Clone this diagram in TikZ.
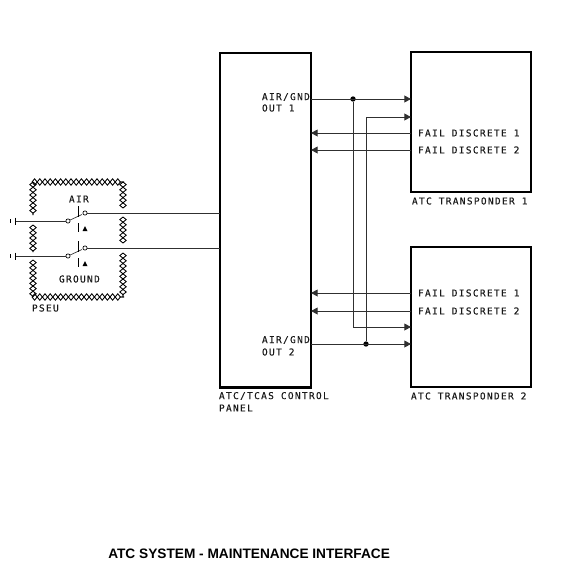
\documentclass[tikz,border=0pt]{standalone}
\usepackage{xcolor}
\usepackage{fontspec}
\usetikzlibrary{arrows.meta,positioning,decorations.pathmorphing}
\newfontfamily\stroke[LetterSpace=14,FakeBold=0.25]{DejaVu Sans Mono}
\setmainfont{Liberation Sans}
\definecolor{fio}{HTML}{303030}
\newcommand{\hatchrun}[2]{%
  \draw[hatch] (#1)--(#2);
  \draw[hatch,decoration={mirror}] (#1)--(#2);
}
\begin{document}
\begin{tikzpicture}[
  x=0.75pt,y=-0.75pt,
  unit/.style={draw=black,line width=2.1pt,outer sep=0pt,inner sep=0pt,anchor=north west},
  tag/.style={inner sep=0pt,outer sep=0pt,anchor=west,font=\stroke\fontsize{7.1pt}{8pt}\selectfont,text=black!90},
  wire/.style={draw=fio,line width=0.7pt},
  arrow/.style={wire,-{Triangle[length=5pt,width=5.2pt]}},
  junction/.style={circle,fill=black,inner sep=0pt,minimum size=4pt},
  contact/.style={circle,draw=black,fill=white,line width=0.5pt,inner sep=0pt,minimum size=3.2pt},
  hatch/.style={decorate,black,line width=0.65pt,decoration={zigzag,amplitude=2.4pt,segment length=7.8pt}}
]
  \useasboundingbox (0,0) rectangle (565,568);
  % boxes
  \node[unit,minimum width=68.25pt,minimum height=251pt] (panel) at (220,53) {};
  \node[unit,minimum width=90pt,minimum height=105pt] (tr1) at (411,52) {};
  \node[unit,minimum width=90pt,minimum height=105pt,below=41.25pt of tr1.south west,anchor=north west] (tr2) {};
  % labels
  \node[tag] (out1a) at (262,97) {AIR/GND};
  \node[tag] (out1b) at (262,108) {OUT 1};
  \node[tag] (out2a) at (262,340) {AIR/GND};
  \node[tag] (out2b) at (262,352) {OUT 2};
  \node[tag] (fail11) at (418,133) {FAIL DISCRETE 1};
  \node[tag] (fail12) at (418,150) {FAIL DISCRETE 2};
  \node[tag] (fail21) at (418,293) {FAIL DISCRETE 1};
  \node[tag] (fail22) at (418,311) {FAIL DISCRETE 2};
  \node[tag] (name1) at (412,201) {ATC TRANSPONDER 1};
  \node[tag] (name2) at (411,396) {ATC TRANSPONDER 2};
  \node[tag] (paneltxt) at (219,396) {ATC/TCAS CONTROL};
  \node[tag] (paneltxtb) at (219,408) {PANEL};
  \node[tag] (air) at (69,199) {AIR};
  \node[tag] (ground) at (59,279) {GROUND};
  \node[tag] (pseu) at (32,308) {PSEU};
  \node[anchor=west,inner sep=0pt,font=\bfseries\fontsize{10.26pt}{12pt}\selectfont] (title) at (108,554) {ATC SYSTEM - MAINTENANCE INTERFACE};
  % transponder wiring
  \coordinate (out1) at (panel.east |- 0,99);
  \coordinate (out2) at (panel.east |- 0,344);
  \node[junction] (dot1) at (353,99) {};
  \node[junction] (dot2) at (366,344) {};
  \coordinate (cross1) at (366,117);
  \coordinate (cross2) at (353,327);
  \draw[arrow] (out1)--(tr1.west |- out1);
  \draw[arrow] (out2)--(tr2.west |- out2);
  \draw[arrow] (dot2)--(cross1)--(tr1.west |- cross1);
  \draw[arrow] (dot1)--(cross2)--(tr2.west |- cross2);
  \draw[arrow] (tr1.west |- fail11.west)--(panel.east |- fail11.west);
  \draw[arrow] (tr1.west |- fail12.west)--(panel.east |- fail12.west);
  \draw[arrow] (tr2.west |- fail21.west)--(panel.east |- fail21.west);
  \draw[arrow] (tr2.west |- fail22.west)--(panel.east |- fail22.west);
  % pseu border
  \hatchrun{32,182}{124,182}
  \hatchrun{32,297}{124,297}
  \hatchrun{33,182}{33,215}
  \hatchrun{33,225}{33,252}
  \hatchrun{33,260}{33,297}
  \hatchrun{123,182}{123,208}
  \hatchrun{123,217}{123,243}
  \hatchrun{123,253}{123,297}
  % switches
  \foreach \sw/\yc/\yp in {a/213/221,b/248/256}{
    \node[contact] (pole\sw) at (68,\yp) {};
    \node[contact] (cont\sw) at (85,\yc) {};
    \coordinate (gnd\sw) at (15,\yp);
    \draw[wire] (gnd\sw)--(pole\sw);
    \draw[wire,line width=0.5pt] (pole\sw)--(82,\yp-6.5);
    \draw[wire,line width=0.5pt] (cont\sw)--(panel.west |- cont\sw);
    \draw[line width=0.6pt] (gnd\sw)++(0,-3.5)--++(0,7);
    \draw[line width=0.6pt] (gnd\sw)++(-5,-2)--++(0,4);
    \draw[line width=0.5pt] (78,\yp-15)--(78,\yp-4);
    \draw[line width=0.5pt] (78,\yp+2)--(78,\yp+11);
    \fill (82.5,\yp+10)--(87.5,\yp+10)--(85,\yp+5)--cycle;
  }
\end{tikzpicture}
\end{document}
